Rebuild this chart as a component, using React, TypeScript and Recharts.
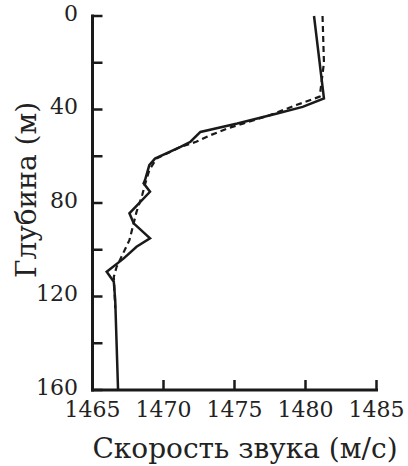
import { ScatterChart, Scatter, XAxis, YAxis, Label } from 'recharts';

// измеренный профиль (сплошная линия)
const measuredSpeed = [1480.6, 1481.3, 1479.8, 1478.0, 1475.2, 1472.6, 1471.9, 1471.2, 1469.4, 1469.0, 1468.7, 1468.6, 1469.05, 1467.6, 1467.9, 1469.05, 1468.1, 1467.2, 1466.0, 1466.5, 1466.6, 1466.8];
const measuredDepth = [0, 35.3, 38.9, 41.7, 46, 49.6, 53.8, 56, 61, 63.8, 70.2, 71.6, 75.2, 84.4, 88.7, 95.1, 98.7, 103.7, 109.4, 113.7, 121.5, 160];

// сглаженный профиль (пунктир)
const smoothSpeed = [1481.2, 1481.3, 1481.0, 1479.4, 1477.5, 1474.5, 1473.3, 1472.3, 1471.2, 1469.5, 1469.0, 1468.7, 1468.5, 1468.1, 1467.6, 1466.7, 1466.5, 1466.6];
const smoothDepth = [0, 20, 34.5, 38, 42.4, 48.1, 51, 53.8, 56, 61, 66, 72, 76.6, 83.8, 95.9, 107.3, 111.6, 125];

const speedTicks = [1465, 1470, 1475, 1480, 1485];
const depthTicks = [0, 20, 40, 60, 80, 100, 120, 140, 160];

const measured = measuredSpeed.map((s, i) => ({ speed: s, depth: measuredDepth[i] }));
const smooth = smoothSpeed.map((s, i) => ({ speed: s, depth: smoothDepth[i] }));

const ink = '#1a1a1a';
const font = 'DejaVu Serif';
const frame = { stroke: ink, strokeWidth: 3, strokeLinecap: 'square' as const };
const tickLine = { stroke: ink, strokeWidth: 2.5 };

export default function App() {
  return (
    <div style={{ position: 'absolute', left: 0, top: 0 }}>
      <ScatterChart width={408} height={466} margin={{ top: 16, right: 31.5, bottom: 0, left: 0 }}>
        <XAxis
          type="number"
          dataKey="speed"
          domain={[1465, 1485]}
          ticks={speedTicks}
          axisLine={frame}
          tickLine={tickLine}
          tickSize={-10}
          tickMargin={21}
          tick={{ fill: '#222', fontSize: 22, fontFamily: font }}
          height={76}
          interval={0}
        >
          <Label
            content={({ viewBox }: any) => (
              <text x={245} y={viewBox.y + 68} textAnchor="middle" fill="#222" fontSize={28} fontFamily={font}>
                Скорость звука (м/с)
              </text>
            )}
          />
        </XAxis>
        <XAxis
          xAxisId="top"
          orientation="top"
          type="number"
          dataKey="speed"
          domain={[1465, 1485]}
          ticks={speedTicks}
          axisLine={frame}
          tickLine={tickLine}
          tickSize={-10}
          tickFormatter={() => ''}
          height={0}
          interval={0}
        />
        <YAxis
          type="number"
          dataKey="depth"
          domain={[0, 160]}
          reversed
          ticks={depthTicks}
          axisLine={frame}
          tickLine={tickLine}
          tickSize={-10}
          tickMargin={24.5}
          tick={{ fill: '#222', fontSize: 22, fontFamily: font, dy: -3 }}
          tickFormatter={(v: number) => (v % 40 === 0 ? String(v) : '')}
          width={92.5}
          interval={0}
        >
          <Label
            content={() => (
              <text
                x={26}
                y={190}
                transform="rotate(-90 26 190)"
                textAnchor="middle"
                dominantBaseline="central"
                fill="#222"
                fontSize={28}
                fontFamily={font}
              >
                Глубина (м)
              </text>
            )}
          />
        </YAxis>
        <YAxis
          yAxisId="right"
          orientation="right"
          type="number"
          dataKey="depth"
          domain={[0, 160]}
          reversed
          ticks={depthTicks}
          axisLine={frame}
          tickLine={tickLine}
          tickSize={-10}
          tickFormatter={() => ''}
          width={0}
          interval={0}
        />
        <Scatter
          data={smooth}
          line={{ stroke: ink, strokeWidth: 2.2, strokeDasharray: '6 4' }}
          shape={() => <g />}
          isAnimationActive={false}
        />
        <Scatter
          data={measured}
          line={{ stroke: ink, strokeWidth: 2.5 }}
          shape={() => <g />}
          isAnimationActive={false}
        />
      </ScatterChart>
    </div>
  );
}
